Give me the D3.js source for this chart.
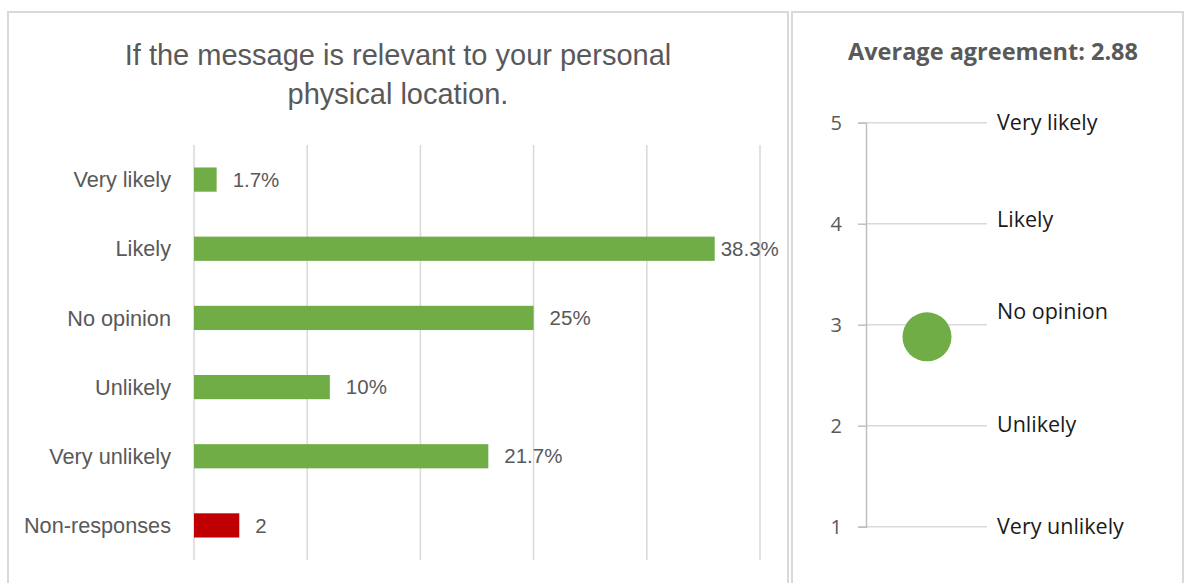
<!DOCTYPE html>
<html><head><meta charset="utf-8">
<script src="https://cdn.jsdelivr.net/npm/d3@7"></script>
<style>
html,body{margin:0;padding:0;background:#fff;}
svg{display:block;}
</style></head>
<body>
<svg id="chart" width="1185" height="583"></svg>
<script>
// ---- data ----
const titleLines = ["If the message is relevant to your personal", "physical location."];
const categories = ["Very likely", "Likely", "No opinion", "Unlikely", "Very unlikely", "Non-responses"];
const counts = [1, 23, 15, 6, 13, 2];
const valueLabels = ["1.7%", "38.3%", "25%", "10%", "21.7%", "2"];
const barColors = ["#70ad47", "#70ad47", "#70ad47", "#70ad47", "#70ad47", "#c00000"];
const xTicks = [0, 5, 10, 15, 20, 25];

const avgTitle = "Average agreement: 2.88";
const avgValue = 2.88;
const scaleLevels = [5, 4, 3, 2, 1];
const scaleLabels = ["Very likely", "Likely", "No opinion", "Unlikely", "Very unlikely"];

// ---- drawing ----
const svg = d3.select("#chart");
const grey = "#595959";
const leftFont = "'Liberation Sans', Arial, sans-serif";
const rightFont = "'Open Sans', 'Noto Sans', sans-serif";

// panel borders
svg.append("rect").attr("x", 8).attr("y", 12).attr("width", 780).attr("height", 600)
  .attr("fill", "none").attr("stroke", "#d9d9d9").attr("stroke-width", 2);
svg.append("rect").attr("x", 792).attr("y", 12).attr("width", 391).attr("height", 600)
  .attr("fill", "none").attr("stroke", "#d9d9d9").attr("stroke-width", 2);

// left title
svg.append("g").selectAll("text").data(titleLines).join("text")
  .attr("x", 398).attr("y", (d, i) => 55 + i * 39)
  .attr("dy", "0.35em")
  .attr("text-anchor", "middle")
  .attr("font-family", leftFont).attr("font-size", 29)
  .attr("fill", grey).text(d => d);

// bar chart
const x = d3.scaleLinear().domain([0, 25]).range([194, 760]);
const y = d3.scaleBand().domain(categories).range([145, 560]).paddingInner(0.65).paddingOuter(0.325);

svg.append("g").selectAll("line").data(xTicks).join("line")
  .attr("x1", d => x(d)).attr("x2", d => x(d))
  .attr("y1", 145).attr("y2", 560)
  .attr("stroke", "#d9d9d9").attr("stroke-width", 1.5);

svg.append("g").selectAll("rect").data(categories).join("rect")
  .attr("x", x(0)).attr("y", d => y(d))
  .attr("width", (d, i) => x(counts[i]) - x(0))
  .attr("height", y.bandwidth())
  .attr("fill", (d, i) => barColors[i]);

svg.append("g").selectAll("text").data(categories).join("text")
  .attr("x", 171).attr("y", d => y(d) + y.bandwidth() / 2)
  .attr("dy", "0.35em").attr("text-anchor", "end")
  .attr("font-family", leftFont).attr("font-size", 21.7)
  .attr("fill", grey).text(d => d);

svg.append("g").selectAll("text").data(categories).join("text")
  .attr("x", (d, i) => x(counts[i]) + (counts[i] > 20 ? 6 : 16))
  .attr("y", d => y(d) + y.bandwidth() / 2)
  .attr("dy", "0.35em").attr("text-anchor", "start")
  .attr("font-family", leftFont).attr("font-size", 20.5)
  .attr("fill", grey).text((d, i) => valueLabels[i]);

// right panel
svg.append("text").attr("x", 993).attr("y", 52).attr("dy", "0.35em")
  .attr("text-anchor", "middle").attr("font-family", rightFont)
  .attr("font-weight", "bold").attr("font-size", 23.5).attr("fill", grey)
  .text(avgTitle);

const yr = d3.scaleLinear().domain([1, 5]).range([526.7, 122.7]);
const axisX = 866;

svg.append("g").selectAll("line").data(scaleLevels).join("line")
  .attr("x1", axisX).attr("x2", 987)
  .attr("y1", d => yr(d)).attr("y2", d => yr(d))
  .attr("stroke", "#d9d9d9").attr("stroke-width", 1.5);

const axisG = svg.append("g").attr("transform", `translate(${axisX},0)`)
  .call(d3.axisLeft(yr).tickValues(scaleLevels).tickFormat(d3.format("d")).tickSize(8).tickPadding(16));
axisG.attr("font-size", null).attr("font-family", null);
axisG.select(".domain").attr("stroke", "#bfbfbf").attr("stroke-width", 1.5);
axisG.selectAll(".tick line").attr("stroke", "#bfbfbf").attr("stroke-width", 1.5);
axisG.selectAll(".tick text")
  .style("font-size", "20px").style("font-family", rightFont).attr("fill", grey);

const labelShift = [0, -4, -13, -1, 0];
svg.append("g").selectAll("text").data(scaleLevels).join("text")
  .attr("x", 997).attr("y", (d, i) => yr(d) + labelShift[i])
  .attr("dy", "0.35em").attr("font-family", rightFont).attr("font-size", 21.5)
  .attr("fill", "#1a1a1a").text((d, i) => scaleLabels[i]);

svg.append("circle").attr("cx", 927).attr("cy", yr(avgValue)).attr("r", 24.5)
  .attr("fill", "#70ad47");
</script>
</body></html>
